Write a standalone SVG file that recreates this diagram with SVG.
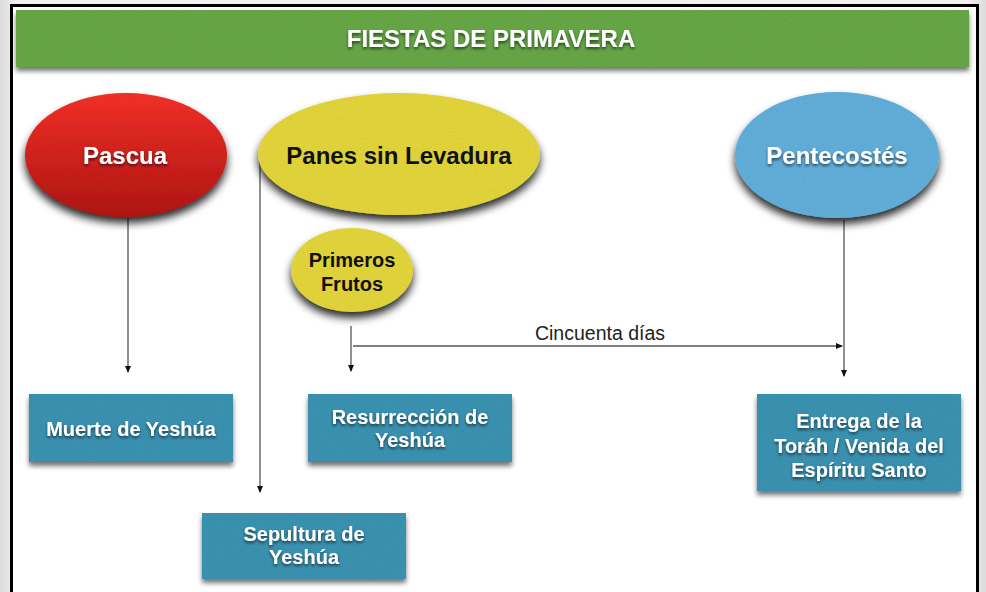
<svg xmlns="http://www.w3.org/2000/svg" width="986" height="592" viewBox="0 0 986 592">
<style>
.ttl{font-family:"Liberation Sans",Arial,sans-serif;font-weight:bold;font-size:24px;fill:#fff;text-anchor:middle}
.big{font-family:"Liberation Sans",Arial,sans-serif;font-weight:bold;font-size:24px;text-anchor:middle}
.mid{font-family:"Liberation Sans",Arial,sans-serif;font-weight:bold;font-size:20px;text-anchor:middle;fill:#111}
.box{font-family:"Liberation Sans",Arial,sans-serif;font-weight:bold;font-size:20px;text-anchor:middle;fill:#fff}
.lbl{font-family:"Liberation Sans",Arial,sans-serif;font-size:19.5px;text-anchor:middle;fill:#222}
.con{stroke:#555;stroke-width:1.3;fill:none}
.rect{fill:#3c96b6}
</style>
<defs>
<linearGradient id="bg" x1="0" y1="0" x2="1" y2="0">
<stop offset="0" stop-color="#dcdcdc"/><stop offset="0.02" stop-color="#f2f2f2"/><stop offset="0.98" stop-color="#f2f2f2"/><stop offset="1" stop-color="#dcdcdc"/>
</linearGradient>
<linearGradient id="red" x1="0" y1="0" x2="0" y2="1">
<stop offset="0" stop-color="#fa322b"/><stop offset="1" stop-color="#b51b19"/>
</linearGradient>
<filter id="sh" x="-20%" y="-20%" width="140%" height="150%">
<feGaussianBlur in="SourceAlpha" stdDeviation="4"/>
<feOffset dy="6" result="b"/>
<feComponentTransfer in="b" result="s"><feFuncA type="linear" slope="0.85"/></feComponentTransfer>
<feTurbulence type="fractalNoise" baseFrequency="0.9" numOctaves="2" seed="3" result="n"/>
<feColorMatrix in="n" type="matrix" values="0 0 0 0 0  0 0 0 0 0  0 0 0 0 0  0 0 0 0.18 0" result="na"/>
<feComposite in="na" in2="SourceGraphic" operator="in" result="tex"/>
<feMerge><feMergeNode in="s"/><feMergeNode in="SourceGraphic"/><feMergeNode in="tex"/></feMerge>
</filter>
<filter id="shb" x="-10%" y="-20%" width="120%" height="150%">
<feGaussianBlur in="SourceAlpha" stdDeviation="2.5"/>
<feOffset dy="4" result="b"/>
<feComponentTransfer in="b" result="s"><feFuncA type="linear" slope="0.55"/></feComponentTransfer>
<feTurbulence type="fractalNoise" baseFrequency="0.9" numOctaves="2" seed="5" result="n"/>
<feColorMatrix in="n" type="matrix" values="0 0 0 0 0  0 0 0 0 0  0 0 0 0 0  0 0 0 0.18 0" result="na"/>
<feComposite in="na" in2="SourceGraphic" operator="in" result="tex"/>
<feMerge><feMergeNode in="s"/><feMergeNode in="SourceGraphic"/><feMergeNode in="tex"/></feMerge>
</filter>
<filter id="ts" x="-10%" y="-30%" width="120%" height="170%">
<feGaussianBlur in="SourceAlpha" stdDeviation="1.5"/>
<feOffset dy="2" result="b"/>
<feComponentTransfer in="b" result="s"><feFuncA type="linear" slope="0.6"/></feComponentTransfer>
<feMerge><feMergeNode in="s"/><feMergeNode in="SourceGraphic"/></feMerge>
</filter>
<marker id="ar" markerWidth="8" markerHeight="8" refX="6" refY="4" orient="auto" markerUnits="userSpaceOnUse">
<path d="M0,1 L7,4 L0,7 Z" fill="#111"/>
</marker>
</defs>
<rect x="0" y="0" width="986" height="592" fill="url(#bg)"/>
<rect x="11.5" y="5.5" width="966" height="600" fill="#fff" stroke="#000" stroke-width="3"/>

<g id="header">
<rect x="16" y="10" width="953" height="57" fill="#6bab4a" filter="url(#shb)"/>
<text class="ttl" x="491" y="47" filter="url(#ts)">FIESTAS DE PRIMAVERA</text>
</g>

<g id="connectors">
<line class="con" x1="128" y1="218" x2="128" y2="372" marker-end="url(#ar)"/>
<line class="con" x1="260" y1="162" x2="260" y2="492" marker-end="url(#ar)"/>
<line class="con" x1="351" y1="326" x2="351" y2="371" marker-end="url(#ar)"/>
<line class="con" x1="353" y1="346" x2="842" y2="346" marker-end="url(#ar)"/>
<line class="con" x1="844" y1="220" x2="844" y2="376" marker-end="url(#ar)"/>
<text class="lbl" x="600" y="340">Cincuenta días</text>
</g>

<g id="pascua">
<ellipse cx="126" cy="155" rx="101" ry="62" fill="url(#red)" filter="url(#sh)"/>
<text class="big" x="125" y="164" fill="#fff" filter="url(#ts)">Pascua</text>
</g>

<g id="panes">
<ellipse cx="399" cy="154" rx="141" ry="61" fill="#e8da3c" filter="url(#sh)"/>
<text class="big" x="399" y="164" fill="#111">Panes sin Levadura</text>
</g>

<g id="primeros">
<ellipse cx="352" cy="270" rx="61" ry="42" fill="#e8da3c" filter="url(#sh)"/>
<text class="mid" x="352" y="267">Primeros</text>
<text class="mid" x="352" y="291">Frutos</text>
</g>

<g id="pentecostes">
<ellipse cx="837" cy="155" rx="102" ry="63" fill="#65b3e0" filter="url(#sh)"/>
<text class="big" x="837" y="164" fill="#fff" filter="url(#ts)">Pentecostés</text>
</g>

<g id="muerte">
<rect class="rect" x="29" y="394" width="204" height="68" filter="url(#shb)"/>
<text class="box" x="131" y="436" filter="url(#ts)">Muerte de Yeshúa</text>
</g>

<g id="resurreccion">
<rect class="rect" x="308" y="394" width="204" height="68" filter="url(#shb)"/>
<text class="box" x="410" y="424" filter="url(#ts)">Resurrección de</text>
<text class="box" x="410" y="447" filter="url(#ts)">Yeshúa</text>
</g>

<g id="sepultura">
<rect class="rect" x="202" y="513" width="204" height="66" filter="url(#shb)"/>
<text class="box" x="304" y="541" filter="url(#ts)">Sepultura de</text>
<text class="box" x="304" y="564" filter="url(#ts)">Yeshúa</text>
</g>

<g id="entrega">
<rect class="rect" x="757" y="394" width="204" height="97" filter="url(#shb)"/>
<text class="box" x="859" y="428" filter="url(#ts)">Entrega de la</text>
<text class="box" x="859" y="453" filter="url(#ts)">Toráh / Venida del</text>
<text class="box" x="859" y="477" filter="url(#ts)">Espíritu Santo</text>
</g>
</svg>
